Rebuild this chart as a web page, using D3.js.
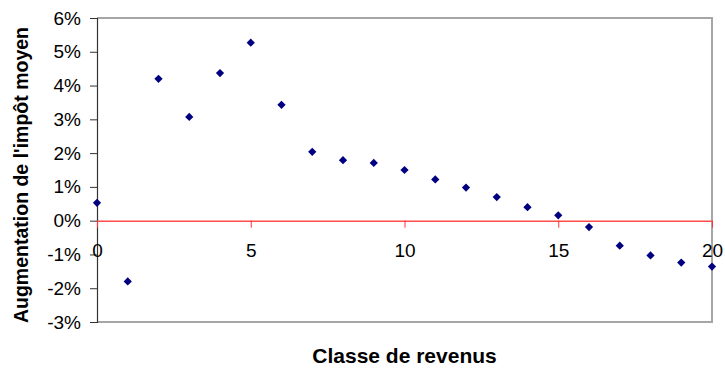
<!DOCTYPE html>
<html>
<head>
<meta charset="utf-8">
<script src="https://cdn.jsdelivr.net/npm/d3@7"></script>
<style>
  body { margin: 0; background: #fff; }
  text { font-family: "Liberation Sans", Arial, sans-serif; fill: #000; }
</style>
</head>
<body>
<svg id="chart" width="725" height="368"></svg>
<script>
// income class and average tax change (%)
const classes = d3.range(0, 21)
const taxChange = [0.53, -1.80, 4.20, 3.07, 4.37, 5.27, 3.43, 2.04, 1.79, 1.71, 1.50,
                   1.22, 0.98, 0.70, 0.40, 0.16, -0.19, -0.74, -1.03, -1.24, -1.36]
const yTicks = [-3, -2, -1, 0, 1, 2, 3, 4, 5, 6]
const xTicks = [0, 5, 10, 15, 20]

const data = classes.map((c, i) => ({x: c, y: taxChange[i]}))

const margin = {left: 97, right: 13, top: 18, bottom: 46}
const W = 725, H = 368

const svg = d3.select("#chart")

let x = d3.scaleLinear().domain([0, 20]).range([margin.left, W - margin.right])
let y = d3.scaleLinear().domain([-3, 6]).range([H - margin.bottom, margin.top])

// plot frame (grey on top/right/bottom)
svg.append("path")
  .attr("d", `M${x(0)},${y(6)} H${x(20)} V${y(-3)} H${x(0)}`)
  .attr("fill", "none")
  .attr("stroke", "#a6a6a6")
  .attr("stroke-width", 2)

// y axis
let yAxis = svg.append("g")
  .attr("transform", `translate(${x(0)},0)`)
  .call(d3.axisLeft(y).tickValues(yTicks).tickSize(7).tickPadding(9).tickFormat(d => d + "%"))
yAxis.select(".domain").attr("stroke", "#333").attr("stroke-width", 1.2)
yAxis.selectAll(".tick line").attr("stroke", "#333")
yAxis.selectAll("text")
  .style("font-size", "19px")
  .attr("fill", "#000")

// x axis on zero line (red)
let xAxis = svg.append("g")
  .attr("transform", `translate(0,${y(0)})`)
  .call(d3.axisBottom(x).tickValues(xTicks).tickSize(7).tickPadding(16).tickSizeOuter(0))
xAxis.select(".domain").attr("stroke", "#ff4d4d").attr("stroke-width", 1.5)
xAxis.selectAll(".tick line").attr("stroke", "#ff3333")
xAxis.selectAll("text")
  .style("font-size", "19px")
  .attr("fill", "#000")

// markers
svg.append("g")
  .selectAll("path")
  .data(data).enter()
  .append("path")
  .attr("d", d3.symbol(d3.symbolSquare, 34))
  .attr("transform", d => `translate(${x(d.x)},${y(d.y)}) rotate(45)`)
  .attr("fill", "#000080")

// axis titles
svg.append("text")
  .attr("transform", `translate(28,${(y(6) + y(-3)) / 2 + 5}) rotate(-90)`)
  .attr("text-anchor", "middle")
  .style("font-size", "19.5px")
  .style("font-weight", "bold")
  .text("Augmentation de l'impôt moyen")

svg.append("text")
  .attr("x", (x(0) + x(20)) / 2)
  .attr("y", 363)
  .attr("text-anchor", "middle")
  .style("font-size", "21px")
  .style("font-weight", "bold")
  .text("Classe de revenus")
</script>
</body>
</html>
